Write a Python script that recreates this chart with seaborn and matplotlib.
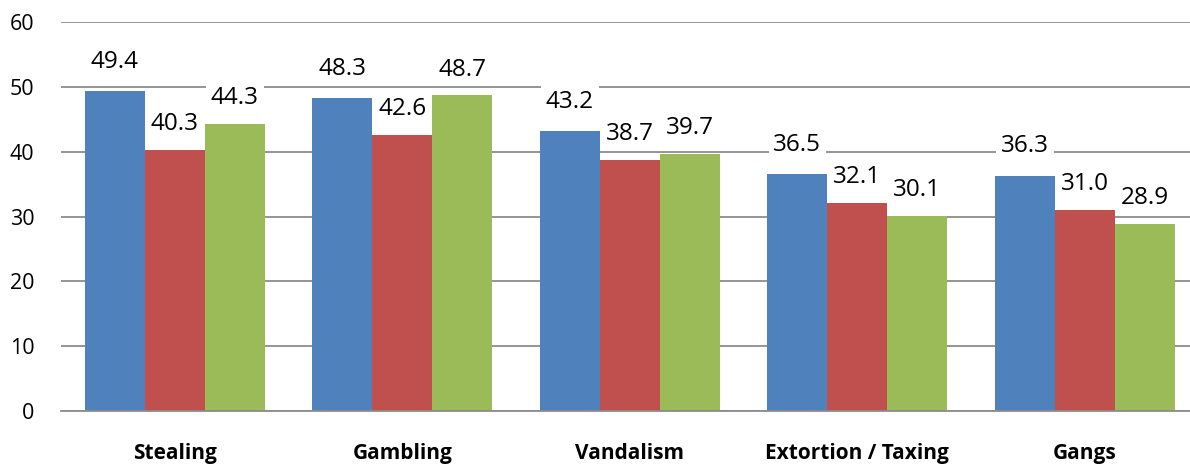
import matplotlib
matplotlib.use("Agg")
import matplotlib.pyplot as plt
import seaborn as sns
import pandas as pd

categories = ["Stealing", "Gambling", "Vandalism", "Extortion / Taxing", "Gangs"]
series_names = ["Series 1", "Series 2", "Series 3"]
series_1 = [49.4, 48.3, 43.2, 36.5, 36.3]
series_2 = [40.3, 42.6, 38.7, 32.1, 31.0]
series_3 = [44.3, 48.7, 39.7, 30.1, 28.9]
y_ticks = [0, 10, 20, 30, 40, 50, 60]

colors = ["#4F81BD", "#C0504D", "#9BBB59"]
label_offsets = [21, 18.5, 18.5]  # points above each series' bar top

rows = []
for name, vals in zip(series_names, [series_1, series_2, series_3]):
    for cat, v in zip(categories, vals):
        rows.append({"category": cat, "series": name, "value": v})
df = pd.DataFrame(rows)

sns.set_theme(style="white")
plt.rcParams["font.family"] = ["Open Sans", "DejaVu Sans"]
plt.rcParams["text.color"] = "black"

fig = plt.figure(figsize=(11.9, 4.66), dpi=100)
ax = fig.add_axes([61 / 1190, 55 / 466, (1190 - 61) / 1190, 389 / 466])

sns.barplot(data=df, x="category", y="value", hue="series", order=categories,
            hue_order=series_names, palette=colors, width=0.79, saturation=1,
            legend=False, ax=ax, zorder=2)

for patch in ax.patches:
    patch.set_edgecolor("none")

ax.set_ylim(0, 60)
ax.set_yticks(y_ticks)
ax.set_xlim(-0.5, (1190 - 61) / 227.5 - 0.5)
ax.yaxis.grid(True, color="#8c8c8c", linewidth=1.3, zorder=0)
ax.set_axisbelow(True)
for side in ["top", "right", "left"]:
    ax.spines[side].set_visible(False)
ax.spines["bottom"].set_color("#8c8c8c")
ax.spines["bottom"].set_linewidth(1.3)
ax.set_xlabel("")
ax.set_ylabel("")
ax.tick_params(axis="y", length=0, labelsize=15.5, pad=19, colors="black")
ax.tick_params(axis="x", length=0, labelsize=15, pad=23, colors="black")
for lbl in ax.get_xticklabels():
    lbl.set_fontweight("bold")

for container, off in zip(ax.containers, label_offsets):
    for bar in container:
        h = bar.get_height()
        ax.annotate(f"{h:.1f}", (bar.get_x() + bar.get_width() / 2, h),
                    xytext=(0, off), textcoords="offset points",
                    ha="center", va="center", fontsize=17.5, color="black",
                    zorder=5,
                    bbox=dict(boxstyle="square,pad=0.2", facecolor="white",
                              edgecolor="none"))

fig.savefig("out.png", dpi=100)
